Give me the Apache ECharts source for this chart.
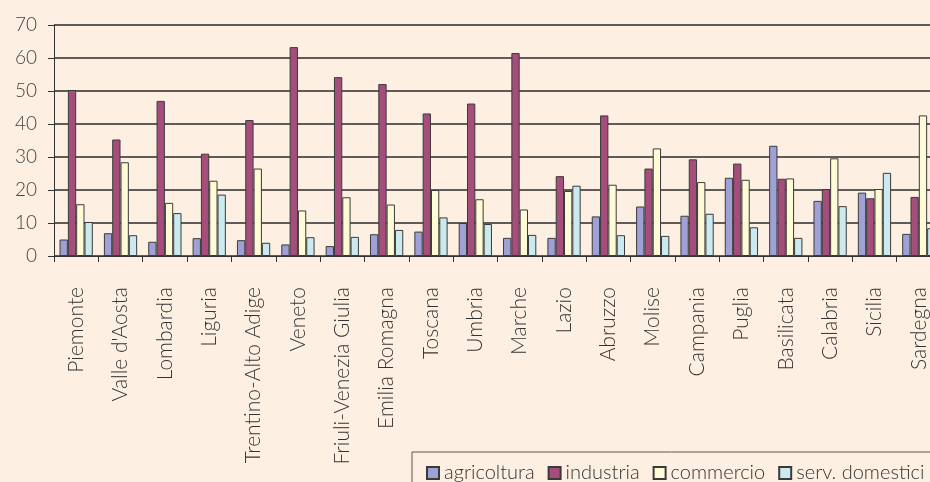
<!DOCTYPE html>
<html>
<head>
<meta charset="utf-8">
<script src="https://cdn.jsdelivr.net/npm/echarts@6/dist/echarts.min.js"></script>
<style>
  html, body { margin: 0; padding: 0; background: #fdf0e2; }
  #main { width: 930px; height: 482px; }
</style>
</head>
<body>
<div id="main"></div>
<script>
// regioni
var regioni = ['Piemonte', "Valle d'Aosta", 'Lombardia', 'Liguria', 'Trentino-Alto Adige', 'Veneto',
    'Friuli-Venezia Giulia', 'Emilia Romagna', 'Toscana', 'Umbria', 'Marche', 'Lazio', 'Abruzzo',
    'Molise', 'Campania', 'Puglia', 'Basilicata', 'Calabria', 'Sicilia', 'Sardegna'];
// valori per settore
var agricoltura = [5.0, 6.9, 4.3, 5.4, 4.8, 3.5, 3.0, 6.6, 7.4, 10.0, 5.5, 5.5, 12.0, 15.0, 12.2, 23.7, 33.4, 16.7, 19.2, 6.7];
var industria = [50.3, 35.3, 47.0, 31.0, 41.2, 63.3, 54.2, 52.1, 43.2, 46.2, 61.5, 24.2, 42.6, 26.5, 29.3, 28.0, 23.4, 20.3, 17.5, 17.9];
var commercio = [15.7, 28.4, 16.1, 22.8, 26.5, 13.8, 17.8, 15.6, 20.0, 17.2, 14.1, 19.7, 21.6, 32.6, 22.4, 23.1, 23.5, 29.6, 20.3, 42.6];
var servDomestici = [10.3, 6.3, 13.0, 18.6, 4.0, 5.7, 5.8, 7.9, 11.7, 9.7, 6.4, 21.3, 6.3, 6.1, 12.8, 8.7, 5.5, 15.1, 25.2, 8.4];
var tickY = [0, 70, 10];

var font = 'Lato';
var chart = echarts.init(document.getElementById('main'));

function serie(nome, dati, colore) {
    return {
        name: nome,
        type: 'bar',
        data: dati,
        barGap: '0%',
        barCategoryGap: '25%',
        itemStyle: { color: colore, borderColor: '#3a3a3a', borderWidth: 1 }
    };
}

option = {
    backgroundColor: '#fdf0e2',
    animation: false,
    grid: { left: 54, top: 25, bottom: 226, right: -11, outerBoundsMode: 'none', containLabel: false },
    legend: {
        left: 412,
        top: 452,
        width: 700,
        orient: 'horizontal',
        padding: [11, 10, 10, 14],
        itemWidth: 12,
        itemHeight: 12,
        itemGap: 13,
        borderColor: '#555',
        borderWidth: 1,
        icon: 'rect',
        textStyle: { fontFamily: font, fontWeight: 300, fontSize: 20, color: '#333', lineHeight: 16 },
        data: ['agricoltura', 'industria', 'commercio', 'serv. domestici']
    },
    xAxis: {
        type: 'category',
        data: regioni,
        axisLine: { lineStyle: { color: '#333', width: 1 } },
        axisTick: { show: true, length: 6, alignWithLabel: false, lineStyle: { color: '#333' } },
        axisLabel: {
            rotate: 90,
            interval: 0,
            margin: 31,
            fontFamily: font,
            fontWeight: 300,
            fontSize: 21,
            color: '#333'
        }
    },
    yAxis: {
        type: 'value',
        min: tickY[0],
        max: tickY[1],
        interval: tickY[2],
        axisLine: { show: true, lineStyle: { color: '#333', width: 1 } },
        axisTick: { show: true, length: 6, lineStyle: { color: '#333' } },
        axisLabel: { margin: 17, fontFamily: font, fontWeight: 300, fontSize: 19, color: '#444' },
        splitLine: { show: true, lineStyle: { color: '#2a2a2a', width: 1.5 } }
    },
    series: [
        serie('agricoltura', agricoltura, '#9fa0d6'),
        serie('industria', industria, '#a64e7b'),
        serie('commercio', commercio, '#fffbd6'),
        serie('serv. domestici', servDomestici, '#cbe9ee')
    ]
};
chart.setOption(option);
</script>
</body>
</html>
